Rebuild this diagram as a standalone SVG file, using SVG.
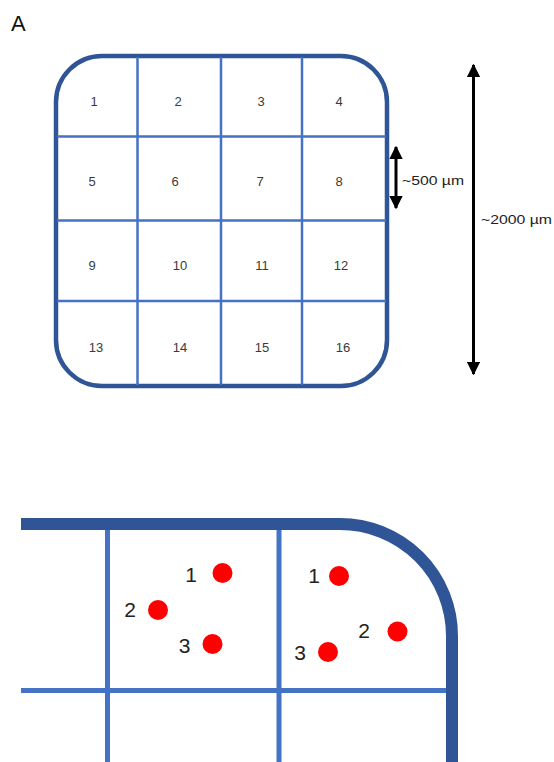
<svg xmlns="http://www.w3.org/2000/svg" width="554" height="762" viewBox="0 0 554 762">
<style>
.frame{fill:none;stroke:#2f5597;stroke-width:4.5}
.grid{stroke:#4472c4;stroke-width:2.5;fill:none}
.thick{fill:none;stroke:#2f5597;stroke-width:12}
.grid2{stroke:#4472c4;stroke-width:5;fill:none}
.num{font-family:"Liberation Sans",Arial,sans-serif;font-size:13px;fill:#3a3a3a;text-anchor:middle}
.dim{font-family:"Liberation Sans",Arial,sans-serif;font-size:12px;fill:#222}
.lbl{font-family:"Liberation Sans",Arial,sans-serif;font-size:21px;fill:#222;text-anchor:middle}
.dot{fill:#ff0000}
.arr{stroke:#000;stroke-width:3;fill:none}
</style>
<defs>
<marker id="ah" viewBox="0 0 10 10" refX="9" refY="5" markerWidth="4.5" markerHeight="4.5" orient="auto-start-reverse" markerUnits="strokeWidth">
<path d="M0,0 L10,5 L0,10 z" fill="#000"/>
</marker>
</defs>
<rect width="554" height="762" fill="#fff"/>
<text x="11" y="31" font-family="'Liberation Sans',Arial,sans-serif" font-size="22" fill="#111">A</text>
<g id="chamber">
<rect class="frame" x="56" y="56" width="331" height="330" rx="46" ry="46"/>
<path class="grid" d="M137.5,57V385M221,57V385M302,57V385M57,136.5H386M57,220.5H386M57,301H386"/>
</g>
<g id="cells">
<text class="num" x="94" y="106">1</text>
<text class="num" x="178" y="106">2</text>
<text class="num" x="261" y="106">3</text>
<text class="num" x="339" y="106">4</text>
<text class="num" x="92" y="186">5</text>
<text class="num" x="175" y="186">6</text>
<text class="num" x="260" y="186">7</text>
<text class="num" x="339" y="186">8</text>
<text class="num" x="92" y="270">9</text>
<text class="num" x="180" y="270">10</text>
<text class="num" x="262" y="270">11</text>
<text class="num" x="341" y="270">12</text>
<text class="num" x="96" y="352">13</text>
<text class="num" x="180" y="352">14</text>
<text class="num" x="262" y="352">15</text>
<text class="num" x="343" y="352">16</text>
</g>
<g id="connectors">
<line class="arr" x1="396" y1="147" x2="396" y2="208" marker-start="url(#ah)" marker-end="url(#ah)"/>
<line class="arr" x1="473.5" y1="65" x2="473.5" y2="374" marker-start="url(#ah)" marker-end="url(#ah)"/>
</g>
<g id="dims">
<text class="dim" x="402" y="185" textLength="62" lengthAdjust="spacingAndGlyphs">~500 µm</text>
<text class="dim" x="481" y="224" textLength="71" lengthAdjust="spacingAndGlyphs">~2000 µm</text>
</g>
<g id="detail">
<path class="grid2" d="M107.5,526V762M279,526V762M21,690.5H452"/>
<path class="thick" d="M21,524H340A112,112 0 0 1 452,636V762"/>
</g>
<g id="cellsB">
<circle class="dot" cx="222.5" cy="573" r="10"/>
<circle class="dot" cx="158" cy="610" r="10"/>
<circle class="dot" cx="212.5" cy="644" r="10"/>
<circle class="dot" cx="339" cy="576" r="10"/>
<circle class="dot" cx="397.5" cy="631.5" r="10"/>
<circle class="dot" cx="328" cy="652" r="10"/>
<text class="lbl" x="191" y="582">1</text>
<text class="lbl" x="130" y="617">2</text>
<text class="lbl" x="184.5" y="653">3</text>
<text class="lbl" x="314" y="583">1</text>
<text class="lbl" x="364" y="638">2</text>
<text class="lbl" x="300" y="660">3</text>
</g>
</svg>
